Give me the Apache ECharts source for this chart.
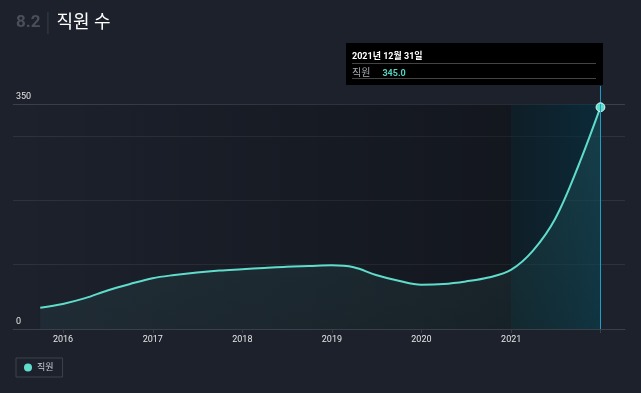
<!DOCTYPE html>
<html>
<head>
<meta charset="utf-8">
<script src="https://cdn.jsdelivr.net/npm/echarts@6/dist/echarts.min.js"></script>
<style>
html,body{margin:0;padding:0;background:#1c212c;}
#c{width:641px;height:393px;}
</style>
</head>
<body>
<div id="c"></div>
<script>
const seriesName = '직원';
const dates = ['2015-09-30','2015-12-31','2016-03-31','2016-06-30','2016-09-30','2016-12-31',
  '2017-03-31','2017-06-30','2017-09-30','2017-12-31','2018-03-31','2018-06-30','2018-09-30','2018-12-31',
  '2019-03-31','2019-06-30','2019-09-30','2019-12-31','2020-03-31','2020-06-30','2020-09-30','2020-12-31',
  '2021-03-31','2021-06-30','2021-09-30','2021-12-31'];
const employees = [33,39,48,60,70,79,84,88,91,93,95,97,98,99,96,84,75,69,70,74,80,92,122,172,252,345];
const yTicks = [0,350];
const xTickYears = [2016,2017,2018,2019,2020,2021];
const xMin = '2015-06-11';
const xMax = '2022-04-10';
const highlightStart = '2021-01-01';

const FONT = 'Roboto, "Noto Sans CJK KR", sans-serif';
const last = employees.length - 1;
const chart = echarts.init(document.getElementById('c'));
const data = dates.map((d,i)=>[d, employees[i]]);

function fmtDate(s){
  const p = s.split('-');
  return p[0]+'년 '+parseInt(p[1])+'월 '+parseInt(p[2])+'일';
}

chart.setOption({
  backgroundColor:'#1c212c',
  animation:false,
  textStyle:{fontFamily:FONT},
  title:{
    left:11, top:7,
    text:'{num|8.2}{sep|}{name|직원 수}',
    textStyle:{
      rich:{
        num:{fontSize:17,fontWeight:'bold',color:'#4a4f5a',fontFamily:FONT,padding:[0,7,0,0]},
        sep:{width:1,height:22,backgroundColor:'#3a3f4a'},
        name:{fontSize:18,fontWeight:'normal',color:'#ffffff',fontFamily:FONT,padding:[0,0,0,8]}
      }
    }
  },
  grid:{left:13,right:16,top:104,bottom:64},
  legend:{
    left:16, top:358, data:[seriesName],
    borderColor:'#3d424c', borderWidth:1, borderRadius:0,
    padding:[5,9,5,8], itemWidth:8, itemHeight:8, icon:'circle', itemGap:5,
    itemStyle:{borderWidth:0},
    textStyle:{color:'#c8cbd0',fontSize:9,fontFamily:FONT}
  },
  tooltip:{
    trigger:'axis', triggerOn:'none', alwaysShowContent:true,
    position:[346,43],
    backgroundColor:'#000000', borderWidth:0, padding:[7,7,6,6],
    extraCssText:'box-shadow:none;border-radius:0;width:244px;',
    axisPointer:{type:'line',lineStyle:{color:'#1a9fc9',width:1,type:'solid'},label:{show:false}},
    formatter:function(params){
      const p = params[0];
      return '<div style="font-family:'+FONT.replace(/"/g,"'")+';margin:0;">'+
        '<div style="color:#fff;font-size:9px;font-weight:bold;line-height:12px;height:12px;padding-bottom:1px;border-bottom:1px solid #444;">'+fmtDate(p.value[0])+'</div>'+
        '<div style="line-height:13px;height:13px;padding:1px 0 0 0;border-bottom:1px solid #444;">'+
        '<span style="color:#a8abb0;font-size:10px;">'+p.seriesName+'</span>'+
        '<span style="color:#52d4c0;font-size:9px;font-weight:bold;margin-left:12px;">'+p.value[1].toFixed(1)+'</span></div></div>';
    }
  },
  xAxis:{
    type:'time', min:xMin, max:xMax,
    minInterval:365*24*3600*1000,
    axisLine:{lineStyle:{color:'#3b3f48'}},
    axisTick:{show:true,length:4,lineStyle:{color:'#3b3f48'}},
    splitLine:{show:false},
    axisLabel:{
      color:'#e6e6e6',fontSize:9,fontFamily:FONT,margin:6,
      formatter:function(v){const d=new Date(v);return (d.getMonth()===0&&d.getDate()===1&&xTickYears.indexOf(d.getFullYear())>=0)?String(d.getFullYear()):'';}
    }
  },
  yAxis:{
    type:'value', min:0, max:350, interval:100,
    axisLine:{show:false}, axisTick:{show:false},
    splitLine:{lineStyle:{color:['#3b3f48','#2d323b','#2d323b','#2d323b','#3b3f48'],width:1}},
    axisLabel:{
      inside:true, margin:3, verticalAlign:'bottom', padding:[0,0,3,0],
      color:'#e6e6e6', fontSize:9, fontFamily:FONT,
      formatter:function(v){return yTicks.indexOf(v)>=0?String(v):'';}
    }
  },
  series:[{
    name:seriesName, type:'line', data:data, smooth:0.35,
    symbol:'circle',
    symbolSize:function(v,p){return p.dataIndex===last?8:0;},
    showSymbol:true,
    itemStyle:{color:'#5fdccb',borderColor:'#d8f5f1',borderWidth:1},
    lineStyle:{color:'#5fdccb',width:2},
    emphasis:{disabled:true},
    areaStyle:{color:new echarts.graphic.LinearGradient(0,0,0,1,[
      {offset:0,color:'rgba(95,220,203,0.17)'},{offset:1,color:'rgba(95,220,203,0.08)'}])},
    markArea:{
      silent:true,
      data:[
        [{xAxis:xMin,itemStyle:{color:new echarts.graphic.LinearGradient(0,0,1,0,[
            {offset:0,color:'rgba(0,0,0,0)'},{offset:1,color:'rgba(0,0,0,0.32)'}])}},{xAxis:highlightStart}],
        [{xAxis:highlightStart,itemStyle:{color:new echarts.graphic.LinearGradient(0,0,1,0,[
            {offset:0,color:'rgba(2,27,34,0.5)'},{offset:1,color:'rgba(0,48,66,0.6)'}])}},{xAxis:dates[last]}]
      ]
    }
  }]
});

chart.dispatchAction({type:'showTip',seriesIndex:0,dataIndex:last});
const px = chart.convertToPixel({xAxisIndex:0}, dates[last]);
chart.setOption({graphic:[{type:'line',silent:true,shape:{x1:px,y1:86,x2:px,y2:104},style:{stroke:'#1a9fc9',lineWidth:1}}]});
chart.dispatchAction({type:'showTip',seriesIndex:0,dataIndex:last});
</script>
</body>
</html>
